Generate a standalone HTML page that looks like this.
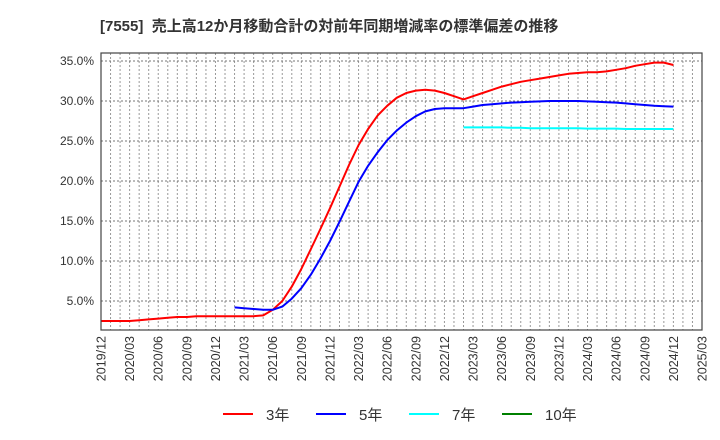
<!DOCTYPE html>
<html><head><meta charset="utf-8"><style>
body{margin:0;background:#fff}
svg{display:block;font-family:"Liberation Sans","Noto Sans CJK JP",sans-serif}
</style></head><body>
<svg id="c" width="720" height="440">
<text x="100" y="31" font-size="15" font-weight="bold" fill="#333" xml:space="preserve">[7555]  売上高12か月移動合計の対前年同期増減率の標準偏差の推移</text>
<g id="grid"></g><g id="series"></g><g id="axes"></g><g id="legend"></g>
</svg>
<script>
const xLabels=["2019/12","2020/03","2020/06","2020/09","2020/12","2021/03","2021/06","2021/09","2021/12","2022/03","2022/06","2022/09","2022/12","2023/03","2023/06","2023/09","2023/12","2024/03","2024/06","2024/09","2024/12","2025/03"];
const yTicks=[5,10,15,20,25,30,35];
const legendNames=["3年","5年","7年","10年"];
const legendColors=["#ff0000","#0000ff","#00ffff","#008000"];
// monthly values starting at 2019/12 (index 0)
const s3=[2.5,2.5,2.5,2.5,2.6,2.7,2.8,2.9,3.0,3.0,3.1,3.1,3.1,3.1,3.1,3.1,3.1,3.2,3.9,5.0,6.8,9.0,11.5,14.0,16.6,19.3,22.0,24.5,26.5,28.2,29.4,30.4,31.0,31.3,31.4,31.3,31.0,30.6,30.2,30.6,31.0,31.4,31.8,32.1,32.4,32.6,32.8,33.0,33.2,33.4,33.5,33.6,33.6,33.7,33.9,34.1,34.4,34.6,34.8,34.8,34.5];
const s5Start=14;
const s5=[4.2,4.1,4.0,3.9,3.9,4.3,5.3,6.6,8.3,10.3,12.5,14.9,17.4,19.9,21.9,23.6,25.1,26.3,27.3,28.1,28.7,29.0,29.1,29.1,29.1,29.3,29.5,29.6,29.7,29.8,29.85,29.9,29.95,30.0,30.0,30.0,30.0,29.95,29.9,29.85,29.8,29.7,29.6,29.5,29.4,29.35,29.3];
const s7Start=38;
const s7=[26.7,26.7,26.7,26.7,26.7,26.65,26.65,26.6,26.6,26.6,26.6,26.6,26.6,26.55,26.55,26.55,26.55,26.5,26.5,26.5,26.5,26.5,26.5];
const L=101,R=702,T=53,B=330;
const xm=i=>L+i*(R-L)/63;
const yv=v=>61+(35-v)*8;
const NS="http://www.w3.org/2000/svg";
function mk(t,a,p){const e=document.createElementNS(NS,t);for(const k in a)e.setAttribute(k,a[k]);p.appendChild(e);return e;}
const g=document.getElementById('grid'),ax=document.getElementById('axes'),sr=document.getElementById('series'),lg=document.getElementById('legend');
for(let i=1;i<63;i++){const l=mk('line',{x1:xm(i),x2:xm(i),y1:T,y2:B,stroke:'#999','stroke-dasharray':'2,2','stroke-width':1},g);

}
yTicks.forEach(v=>{const l=mk('line',{x1:L,x2:R,y1:yv(v),y2:yv(v),stroke:'#777','stroke-dasharray':'2,2','stroke-width':1},g);


const t=mk('text',{x:94,y:yv(v)+4,'font-size':12,'text-anchor':'end',fill:'#333'},ax);t.textContent=v.toFixed(1)+'%';

});
const fr=mk('rect',{x:L,y:T,width:R-L,height:B-T,fill:'none',stroke:'#444','stroke-width':1.2},ax);


xLabels.forEach((s,i)=>{const x=xm(i*3);const t=mk('text',{x:0,y:0,'font-size':12.5,'text-anchor':'end',fill:'#333',transform:`translate(${x+4.5},336) rotate(-90)`},ax);t.textContent=s;

});
function line(arr,start,color,name){const d=arr.map((v,i)=>(i?'L':'M')+xm(start+i).toFixed(1)+','+yv(v).toFixed(1)).join('');
const p=mk('path',{d:d,fill:'none',stroke:color,'stroke-width':2,'stroke-linejoin':'round'},sr);

}
line(s3,0,legendColors[0],'series-3y');
line(s5,s5Start,legendColors[1],'series-5y');
line(s7,s7Start,legendColors[2],'series-7y');
const lx=[223,316,409,502];
legendNames.forEach((n,i)=>{const gg=mk('g',{},lg);


mk('line',{x1:lx[i],x2:lx[i]+30,y1:414,y2:414,stroke:legendColors[i],'stroke-width':2},gg);
const t=mk('text',{x:lx[i]+43,y:420,'font-size':15,fill:'#333'},gg);t.textContent=n;});
</script>
</body></html>
